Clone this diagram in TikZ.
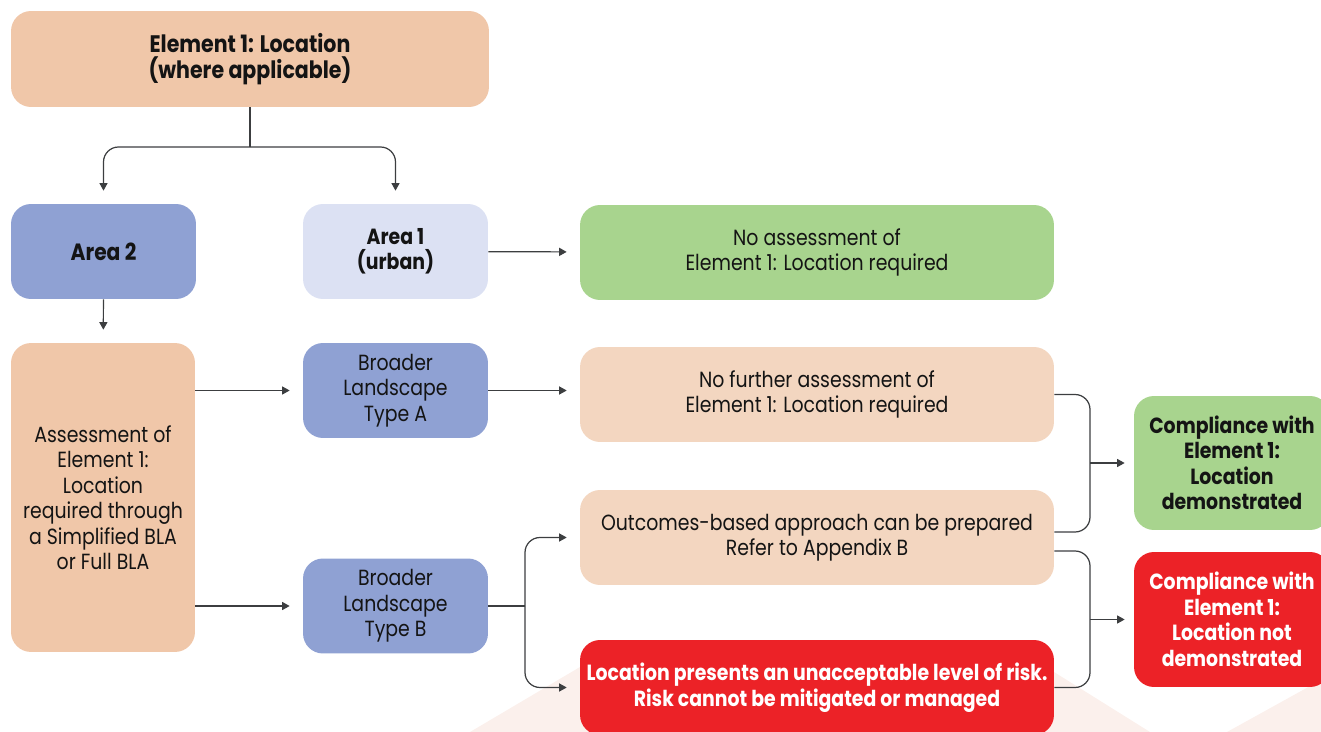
\documentclass[tikz,border=0pt]{standalone}
\usepackage{fontspec}
\setmainfont{Poppins}[FakeStretch=0.86]
\usepackage{xcolor}
\definecolor{elcPeach}  {RGB}{240, 199, 169}
\definecolor{elcPeachLt}{RGB}{243, 214, 192}
\definecolor{elcBlue}   {RGB}{143, 161, 211}
\definecolor{elcLilac}  {RGB}{220, 225, 243}
\definecolor{elcGreen}  {RGB}{168, 212, 142}
\definecolor{elcRed}    {RGB}{236,  34,  39}
\definecolor{elcInk}    {RGB}{ 20,  20,  20}
\definecolor{elcLine}   {RGB}{ 60,  62,  64}
\definecolor{elcBlush}  {RGB}{251, 240, 236}
\usepackage{tikz}
\usetikzlibrary{
  arrows.meta,
  positioning,
}

\begin{document}
\begin{tikzpicture}[
  x=0.02cm, y=-0.02cm,
  font=\fontsize{12.5}{14.5}\selectfont,
  box/.style={rounded corners=4mm, align=center, text=elcInk, inner sep=2pt,
              minimum width=3.7cm, minimum height=1.9cm},
  wide/.style={box, minimum width=9.48cm},
  conn/.style={draw=elcLine, line width=0.7pt, rounded corners=3mm},
  arr/.style={conn, -{Triangle[length=1.5mm, width=1.6mm]}, shorten >=2.6mm},
]
  \useasboundingbox (0,0) rectangle (1321,732);

  % Faint backdrop shapes along the bottom edge
  \fill[elcBlush] (470,732) -- (580,667) -- (1054,672) -- (1150,732) -- cycle;
  \fill[elcBlush] (1227,732) -- (1330,675) -- (1330,732) -- cycle;

  % Top level
  \node[box, fill=elcPeach, minimum width=9.56cm, minimum height=1.92cm,
        font=\fontsize{13.6}{14.5}\selectfont] (title) at (250,59)
    {\textbf{Element 1: Location}\\\textbf{(where applicable)}};

  % Area row
  \node[box, fill=elcBlue, font=\fontsize{13.4}{14.5}\selectfont]  (area2) at (103.5,251.5) {\textbf{Area 2}};
  \node[box, fill=elcLilac] (area1) at (395.5,251.5) {\textbf{Area 1}\\\textbf{(urban)}};
  \node[wide, fill=elcGreen] (noassess) at (817,252.5)
    {No assessment of\\Element 1: Location required};

  % Area 2 branch
  \node[box, fill=elcPeach, minimum width=3.68cm, minimum height=6.18cm] (assess) at (103,497.5)
    {Assessment of\\Element 1:\\Location\\required through\\a Simplified BLA\\or Full BLA};
  \node[box, fill=elcBlue] (typeA) at (395.5,390.5) {Broader\\Landscape\\Type A};
  \node[box, fill=elcBlue] (typeB) at (395.5,606)   {Broader\\Landscape\\Type B};

  % Outcomes
  \node[wide, fill=elcPeachLt] (nofurther) at (817,394.5)
    {No further assessment of\\Element 1: Location required};
  \node[wide, fill=elcPeachLt] (outcomes) at (817,537.5)
    {Outcomes-based approach can be prepared\\Refer to Appendix B};
  \node[wide, fill=elcRed, text=white] (risk) at (817,687.5)
    {\textbf{Location presents an unacceptable level of risk.}\\\textbf{Risk cannot be mitigated or managed}};

  % Compliance results
  \node[box, fill=elcGreen, minimum width=3.92cm, minimum height=2.68cm] (compok) at (1232,463)
    {\textbf{Compliance with}\\\textbf{Element 1:}\\\textbf{Location}\\\textbf{demonstrated}};
  \node[box, fill=elcRed, text=white, minimum width=3.92cm, minimum height=2.7cm] (compno) at (1232,619.5)
    {\textbf{Compliance with}\\\textbf{Element 1:}\\\textbf{Location not}\\\textbf{demonstrated}};

  % Connectors
  \coordinate (split) at (250,147);
  \draw[conn] (title.south) -- (split);
  \draw[arr] (split) -| (area2.north);
  \draw[arr] (split) -| (area1.north);
  \draw[arr] (area2) -- (assess);
  \draw[arr] (area1) -- (noassess);

  \draw[arr] (assess.east |- typeA) -- (typeA);
  \draw[arr] (assess.east |- typeB) -- (typeB);
  \draw[arr] (typeA.east) -- (typeA.east -| nofurther.west);

  \coordinate (forkB) at (525,606);
  \draw[conn] (typeB.east) -- (forkB);
  \draw[arr] (forkB) |- (outcomes.west);
  \draw[arr] (forkB) |- (risk.west);

  % Brackets into the compliance boxes
  \coordinate (joinok) at (1090,463);
  \coordinate (joinno) at (1090,619.5);
  \draw[conn] (nofurther.east) -| (joinok) |- ([yshift=1.1mm]outcomes.east);
  \draw[conn] ([yshift=-2.7mm]outcomes.east) -| (joinno) |- (risk.east);
  \draw[arr, shorten >=1.8mm] (joinok) -- (compok);
  \draw[arr, shorten >=1.8mm] (joinno) -- (compno);
\end{tikzpicture}
\end{document}
